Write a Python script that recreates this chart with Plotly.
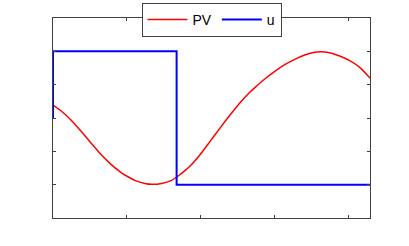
import plotly.graph_objects as go

# PV curve
pv_x = [0.0, 0.095, 0.23, 0.365, 0.5, 0.635, 0.77, 0.905, 0.973, 1.108, 1.243, 1.334,
        1.469, 1.604, 1.693, 1.784, 1.851, 1.986, 2.122, 2.257, 2.392, 2.527, 2.662,
        2.73, 2.865, 3.0, 3.135, 3.27, 3.405, 3.541, 3.608, 3.743, 3.878, 4.014,
        4.149, 4.288]
pv_y = [0.195, 0.12, -0.015, -0.18, -0.355, -0.53, -0.68, -0.805, -0.855, -0.935, -0.982, -0.995,
        -0.982, -0.935, -0.87, -0.79, -0.725, -0.555, -0.355, -0.155, 0.04, 0.225, 0.385,
        0.455, 0.585, 0.7, 0.8, 0.88, 0.945, 0.985, 0.995, 0.98, 0.93, 0.86,
        0.76, 0.6]

# control signal u (step)
u_x = [0.0, 0.0, 1.672, 1.672, 4.288]
u_y = [0.0, 1.0, 1.0, -1.0, -1.0]

x_ticks = [0, 1, 2, 3, 4]
y_ticks = [-1.5, -1.0, -0.5, 0.0, 0.5, 1.0, 1.5]

fig = go.Figure()
fig.add_trace(go.Scatter(x=pv_x, y=pv_y, mode="lines", name="PV",
                         line=dict(color="#ff0000", width=1.5, shape="spline", smoothing=0.6)))
fig.add_trace(go.Scatter(x=u_x, y=u_y, mode="lines", name="u",
                         line=dict(color="#0000ff", width=2)))

axis_common = dict(showline=True, linecolor="#404040", linewidth=1, mirror="ticks",
                   ticks="inside", ticklen=3, tickcolor="#404040", showticklabels=False,
                   showgrid=False, zeroline=False)
fig.update_xaxes(range=[0, 4.288], tickvals=x_ticks, **axis_common)
fig.update_yaxes(range=[-1.5, 1.5], tickvals=y_ticks, **axis_common)

fig.update_layout(
    width=409, height=246,
    margin=dict(l=53, r=39, t=18, b=28, autoexpand=False),
    paper_bgcolor="white", plot_bgcolor="white",
    showlegend=True,
    legend=dict(orientation="h", x=0.5, xanchor="center", y=0.99, yanchor="middle",
                bgcolor="white", bordercolor="#404040", borderwidth=1,
                font=dict(family="Liberation Sans, Arial", size=14, color="black"),
                itemwidth=40, tracegroupgap=0),
)
fig.write_html("out.html", config={"displayModeBar": False},
               post_script="document.body.style.margin='0';")
